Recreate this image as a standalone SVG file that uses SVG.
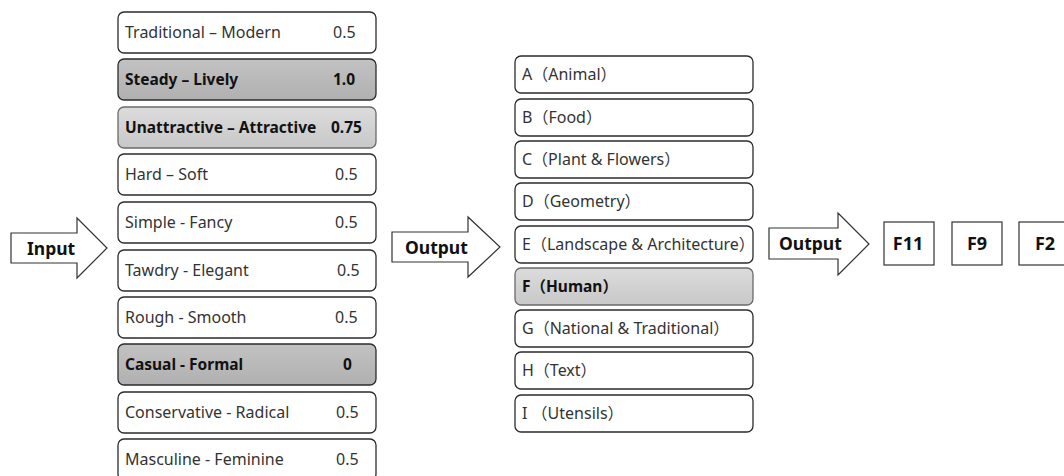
<svg xmlns="http://www.w3.org/2000/svg" width="1064" height="476" viewBox="0 0 1064 476">
<defs>
<linearGradient id="gDark" x1="0" y1="0" x2="0" y2="1"><stop offset="0" stop-color="#c2c2c2"/><stop offset="1" stop-color="#b0b0b0"/></linearGradient>
<linearGradient id="gLight" x1="0" y1="0" x2="0" y2="1"><stop offset="0" stop-color="#dcdcdc"/><stop offset="1" stop-color="#c8c8c8"/></linearGradient>
</defs>
<style>
.box{fill:#fff;stroke:#2b2b2b;stroke-width:1.3}
.dark{fill:url(#gDark)}
.light{fill:url(#gLight);stroke:#6a6a6a}
.t{font-family:"Noto Sans","Noto Sans CJK SC",sans-serif;font-size:16px;fill:#333}
.b{font-weight:bold;fill:#111;font-size:15.5px}
.arrow{fill:#fff;stroke:#333;stroke-width:1.2}
.al{font-family:"Noto Sans",sans-serif;font-size:17.5px;font-weight:bold;fill:#111}
.sq{fill:#fff;stroke:#333;stroke-width:1.2}
.ft{font-family:"Noto Sans",sans-serif;font-size:18px;font-weight:bold;fill:#111;text-anchor:middle}
</style>
<g id="connectors">
<g id="arrow-input"><path class="arrow" d="M11,233 H77 V218 L107,248 L77,278 V263 H11 Z"/><text class="al" x="27" y="255">Input</text></g>
<g id="arrow-output1"><path class="arrow" d="M392,232 H468 V217 L500,247 L468,277 V262 H392 Z"/><text class="al" x="405" y="254">Output</text></g>
<g id="arrow-output2"><path class="arrow" d="M769,228 H838 V213 L869,244 L838,275 V259 H769 Z"/><text class="al" x="779" y="250">Output</text></g>
</g>
<g id="input1"><rect class="box" x="118" y="12" width="258" height="41" rx="6"/><text class="t" x="125" y="38">Traditional – Modern</text><text class="t" x="333" y="38">0.5</text></g>
<g id="input2"><rect class="box dark" x="118" y="59" width="258" height="41" rx="6"/><text class="t b" x="125" y="85">Steady – Lively</text><text class="t b" x="333" y="85">1.0</text></g>
<g id="input3"><rect class="box light" x="118" y="107" width="258" height="41" rx="6"/><text class="t b" x="125" y="133">Unattractive – Attractive</text><text class="t b" x="331" y="133">0.75</text></g>
<g id="input4"><rect class="box" x="118" y="154" width="258" height="41" rx="6"/><text class="t" x="125" y="180">Hard – Soft</text><text class="t" x="335" y="180">0.5</text></g>
<g id="input5"><rect class="box" x="118" y="202" width="258" height="41" rx="6"/><text class="t" x="125" y="228">Simple - Fancy</text><text class="t" x="335" y="228">0.5</text></g>
<g id="input6"><rect class="box" x="118" y="250" width="258" height="41" rx="6"/><text class="t" x="125" y="276">Tawdry - Elegant</text><text class="t" x="337" y="276">0.5</text></g>
<g id="input7"><rect class="box" x="118" y="297" width="258" height="41" rx="6"/><text class="t" x="125" y="323">Rough - Smooth</text><text class="t" x="335" y="323">0.5</text></g>
<g id="input8"><rect class="box dark" x="118" y="344" width="258" height="41" rx="6"/><text class="t b" x="125" y="370">Casual - Formal</text><text class="t b" x="343" y="370">0</text></g>
<g id="input9"><rect class="box" x="118" y="392" width="258" height="41" rx="6"/><text class="t" x="125" y="418">Conservative - Radical</text><text class="t" x="336" y="418">0.5</text></g>
<g id="input10"><rect class="box" x="118" y="439" width="258" height="41" rx="6"/><text class="t" x="125" y="465">Masculine - Feminine</text><text class="t" x="336" y="465">0.5</text></g>
<g id="catA"><rect class="box" x="515" y="56" width="238" height="37" rx="6"/><text class="t" x="522" y="80">A（Animal）</text></g>
<g id="catB"><rect class="box" x="515" y="99" width="238" height="37" rx="6"/><text class="t" x="522" y="123">B（Food）</text></g>
<g id="catC"><rect class="box" x="515" y="141" width="238" height="37" rx="6"/><text class="t" x="522" y="165">C（Plant &amp; Flowers）</text></g>
<g id="catD"><rect class="box" x="515" y="183" width="238" height="37" rx="6"/><text class="t" x="522" y="207">D（Geometry）</text></g>
<g id="catE"><rect class="box" x="515" y="226" width="238" height="37" rx="6"/><text class="t" x="522" y="250">E（Landscape &amp; Architecture）</text></g>
<g id="catF"><rect class="box light" x="515" y="268" width="238" height="37" rx="6"/><text class="t b" x="522" y="292">F（Human）</text></g>
<g id="catG"><rect class="box" x="515" y="310" width="238" height="37" rx="6"/><text class="t" x="522" y="334">G（National &amp; Traditional）</text></g>
<g id="catH"><rect class="box" x="515" y="352" width="238" height="37" rx="6"/><text class="t" x="522" y="376">H（Text）</text></g>
<g id="catI"><rect class="box" x="515" y="395" width="238" height="37" rx="6"/><text class="t" x="522" y="419">I （Utensils）</text></g>
<g id="F11"><rect class="sq" x="884" y="222" width="50" height="43"/><text class="ft" x="908" y="250">F11</text></g>
<g id="F9"><rect class="sq" x="952" y="222" width="50" height="43"/><text class="ft" x="977" y="250">F9</text></g>
<g id="F2"><rect class="sq" x="1019" y="222" width="50" height="43"/><text class="ft" x="1045" y="250">F2</text></g>
</svg>
